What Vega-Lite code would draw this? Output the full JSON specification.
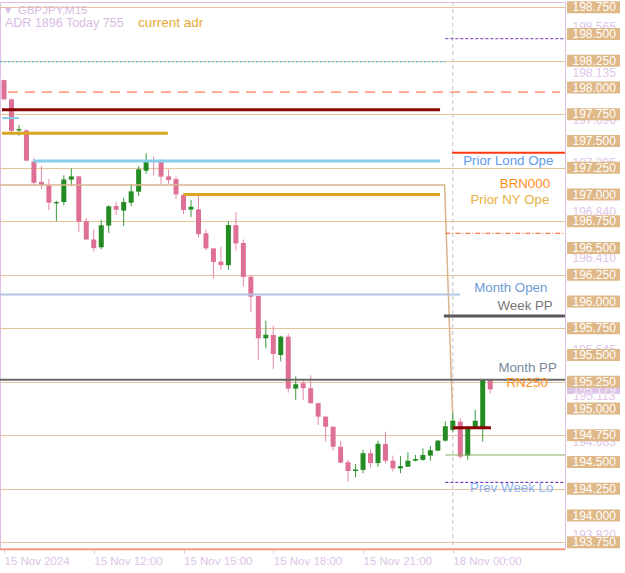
{
  "$schema": "https://vega.github.io/schema/vega-lite/v6.json",
  "width": 565,
  "height": 547,
  "autosize": {"type": "none"},
  "padding": {"left": 0, "top": 2, "right": 60, "bottom": 24},
  "background": "white",
  "config": {"view": {"stroke": "#dbc0e4", "strokeWidth": 1}, "font": "Liberation Sans"},
  "datasets": {
    "candles": [
      {"i":0,"o":198.07,"h":198.075,"l":197.885,"c":197.89},
      {"i":1,"o":197.89,"h":197.9,"l":197.557,"c":197.597},
      {"i":2,"o":197.6,"h":197.65,"l":197.55,"c":197.612},
      {"i":3,"o":197.6,"h":197.61,"l":197.315,"c":197.317},
      {"i":4,"o":197.31,"h":197.34,"l":197.08,"c":197.11},
      {"i":5,"o":197.118,"h":197.267,"l":197.05,"c":197.087},
      {"i":6,"o":197.086,"h":197.145,"l":196.855,"c":196.924},
      {"i":7,"o":196.918,"h":196.94,"l":196.75,"c":196.93},
      {"i":8,"o":196.93,"h":197.18,"l":196.9,"c":197.14},
      {"i":9,"o":197.14,"h":197.245,"l":197.08,"c":197.17},
      {"i":10,"o":197.17,"h":197.173,"l":196.65,"c":196.746},
      {"i":11,"o":196.75,"h":196.78,"l":196.575,"c":196.58},
      {"i":12,"o":196.58,"h":196.675,"l":196.466,"c":196.5},
      {"i":13,"o":196.507,"h":196.765,"l":196.488,"c":196.713},
      {"i":14,"o":196.71,"h":196.9,"l":196.64,"c":196.89},
      {"i":15,"o":196.893,"h":196.93,"l":196.81,"c":196.858},
      {"i":16,"o":196.85,"h":196.97,"l":196.706,"c":196.93},
      {"i":17,"o":196.924,"h":197.1,"l":196.893,"c":197.03},
      {"i":18,"o":197.027,"h":197.267,"l":196.986,"c":197.236},
      {"i":19,"o":197.223,"h":197.386,"l":197.195,"c":197.316},
      {"i":20,"o":197.323,"h":197.354,"l":197.18,"c":197.31},
      {"i":21,"o":197.314,"h":197.33,"l":197.1,"c":197.167},
      {"i":22,"o":197.17,"h":197.236,"l":197.1,"c":197.136},
      {"i":23,"o":197.145,"h":197.167,"l":196.961,"c":197.002},
      {"i":24,"o":196.996,"h":197.012,"l":196.818,"c":196.856},
      {"i":25,"o":196.86,"h":196.95,"l":196.79,"c":196.886},
      {"i":26,"o":196.862,"h":197.012,"l":196.6,"c":196.63},
      {"i":27,"o":196.638,"h":196.675,"l":196.48,"c":196.497},
      {"i":28,"o":196.497,"h":196.5,"l":196.217,"c":196.37},
      {"i":29,"o":196.373,"h":196.513,"l":196.295,"c":196.34},
      {"i":30,"o":196.34,"h":196.75,"l":196.295,"c":196.715},
      {"i":31,"o":196.715,"h":196.834,"l":196.48,"c":196.544},
      {"i":32,"o":196.547,"h":196.58,"l":196.14,"c":196.23},
      {"i":33,"o":196.232,"h":196.248,"l":195.9,"c":196.045},
      {"i":34,"o":196.052,"h":196.07,"l":195.454,"c":195.657},
      {"i":35,"o":195.657,"h":195.82,"l":195.563,"c":195.69},
      {"i":36,"o":195.688,"h":195.774,"l":195.37,"c":195.51},
      {"i":37,"o":195.5,"h":195.68,"l":195.44,"c":195.672},
      {"i":38,"o":195.672,"h":195.703,"l":195.148,"c":195.186},
      {"i":39,"o":195.186,"h":195.3,"l":195.08,"c":195.227},
      {"i":40,"o":195.236,"h":195.26,"l":195.08,"c":195.19},
      {"i":41,"o":195.19,"h":195.31,"l":195.045,"c":195.05},
      {"i":42,"o":195.05,"h":195.055,"l":194.846,"c":194.924},
      {"i":43,"o":194.924,"h":194.93,"l":194.69,"c":194.83},
      {"i":44,"o":194.83,"h":194.835,"l":194.606,"c":194.643},
      {"i":45,"o":194.643,"h":194.7,"l":194.488,"c":194.494},
      {"i":46,"o":194.498,"h":194.52,"l":194.317,"c":194.416},
      {"i":47,"o":194.416,"h":194.48,"l":194.357,"c":194.43},
      {"i":48,"o":194.426,"h":194.613,"l":194.395,"c":194.582},
      {"i":49,"o":194.582,"h":194.62,"l":194.45,"c":194.49},
      {"i":50,"o":194.49,"h":194.7,"l":194.456,"c":194.67},
      {"i":51,"o":194.668,"h":194.784,"l":194.488,"c":194.512},
      {"i":52,"o":194.512,"h":194.56,"l":194.41,"c":194.44},
      {"i":53,"o":194.44,"h":194.557,"l":194.395,"c":194.462},
      {"i":54,"o":194.456,"h":194.59,"l":194.456,"c":194.512},
      {"i":55,"o":194.513,"h":194.566,"l":194.505,"c":194.528},
      {"i":56,"o":194.52,"h":194.628,"l":194.512,"c":194.566},
      {"i":57,"o":194.56,"h":194.65,"l":194.512,"c":194.61},
      {"i":58,"o":194.606,"h":194.706,"l":194.606,"c":194.7},
      {"i":59,"o":194.7,"h":194.88,"l":194.69,"c":194.834},
      {"i":60,"o":194.8,"h":194.97,"l":194.78,"c":194.887},
      {"i":61,"o":194.877,"h":194.91,"l":194.53,"c":194.55},
      {"i":62,"o":194.56,"h":194.83,"l":194.52,"c":194.83},
      {"i":63,"o":194.82,"h":194.99,"l":194.82,"c":194.886},
      {"i":64,"o":194.82,"h":195.267,"l":194.69,"c":195.267},
      {"i":65,"o":195.267,"h":195.267,"l":195.14,"c":195.179}
    ],
    "levels": [
      {"name":"Prev Day High","i1":-0.535,"i2":59.0,"p":198.24},
      {"name":"Week R1","i1":59.0,"i2":75.0,"p":198.458},
      {"name":"ADR High","i1":0.53,"i2":74.3,"p":197.958},
      {"name":"Asia High","i1":-0.27,"i2":58.3,"p":197.793},
      {"name":"Lond Open Tick","i1":-0.27,"i2":2.0,"p":197.715},
      {"name":"Prior Asia Open","i1":-0.27,"i2":21.9,"p":197.572},
      {"name":"Prior Lond Open","i1":3.9,"i2":58.3,"p":197.313},
      {"name":"BRN000","i1":24.0,"i2":58.3,"p":197.0},
      {"name":"Lond Open","i1":59.9,"i2":75.0,"p":197.39},
      {"name":"Day R1","i1":59.0,"i2":75.0,"p":196.638},
      {"name":"Month Open","i1":-0.535,"i2":61.0,"p":196.066},
      {"name":"Week PP","i1":58.8,"i2":75.0,"p":195.864},
      {"name":"Month PP","i1":-0.535,"i2":75.0,"p":195.27},
      {"name":"Asia Open","i1":60.0,"i2":65.1,"p":194.82},
      {"name":"Day Low","i1":59.0,"i2":75.0,"p":194.566},
      {"name":"Prev Week Lo","i1":59.0,"i2":75.0,"p":194.31},
      {"name":"ADR Low","i1":-0.535,"i2":75.0,"p":193.684}
    ],
    "gap": [
      {"i":-0.535,"p":197.09},
      {"i":58.9,"p":197.09},
      {"i":59.95,"p":194.97}
    ],
    "separators": [{"i":60}],
    "notes": [
      {"text":"Prior Lond Ope","i":73.44,"p":197.316},
      {"text":"BRN000","i":73.0,"p":197.096},
      {"text":"Prior NY Ope","i":72.9,"p":196.949},
      {"text":"Month Open","i":72.64,"p":196.124},
      {"text":"Week PP","i":73.36,"p":195.958},
      {"text":"Month PP","i":73.9,"p":195.376},
      {"text":"RN250","i":72.7,"p":195.236},
      {"text":"Prev Week Lo","i":73.44,"p":194.26}
    ],
    "header": [
      {"text":"GBPJPY,M15","i":1.87,"p":198.715}
    ],
    "headerAdrText": [
      {"text":"ADR 1896  Today 755","i":0.13,"p":198.603}
    ],
    "headerAdr": [{"text":"current adr","i":17.9,"p":198.603}],
    "headerMark": [{"text":"▼","i":0.55,"p":198.718}],
    "gridPrices": [
      {"p":193.75},{"p":194.0},{"p":194.25},{"p":194.5},{"p":194.75},{"p":195.0},{"p":195.25},
      {"p":195.5},{"p":195.75},{"p":196.0},{"p":196.25},{"p":196.5},{"p":196.75},{"p":197.0},
      {"p":197.25},{"p":197.5},{"p":197.75},{"p":198.0},{"p":198.25},{"p":198.5},{"p":198.75}
    ],
    "tags": [
      {"p":198.565,"label":"198.565"},
      {"p":198.135,"label":"198.135"},
      {"p":197.696,"label":"197.696"},
      {"p":197.295,"label":"197.295"},
      {"p":196.84,"label":"196.840"},
      {"p":196.41,"label":"196.410"},
      {"p":195.545,"label":"195.545"},
      {"p":195.113,"label":"195.113"},
      {"p":194.683,"label":"194.683"},
      {"p":193.82,"label":"193.820"}
    ],
    "bid": [{"p":195.174,"label":"195.179"}]
  },
  "layer": [
    {
      "data": {"name": "separators"},
      "mark": {"type": "rule", "color": "#c4c4c4", "strokeWidth": 1, "strokeDash": [4, 3]},
      "encoding": {
        "x": {
          "field": "i", "type": "quantitative", "title": null,
          "scale": {"domain": [-0.535, 75.0], "nice": false, "zero": false, "padding": 0},
          "axis": {
            "orient": "bottom", "values": [0, 12, 24, 36, 48, 60], "grid": false, "domain": false,
            "labelExpr": "['15 Nov 2024','15 Nov 12:00','15 Nov 15:00','15 Nov 18:00','15 Nov 21:00','18 Nov 00:00'][round(datum.value/12)]",
            "labelAlign": "left", "labelColor": "#dcc4e6", "labelFont": "Liberation Sans", "labelFontSize": 11.5,
            "labelPadding": 2, "tickSize": 4, "tickColor": "#dcc4e6", "labelFlush": false, "labelOverlap": false
          }
        }
      }
    },
    {
      "data": {"name": "candles"},
      "mark": {"type": "rule", "strokeWidth": 1},
      "encoding": {
        "x": {"field": "i", "type": "quantitative", "title": null},
        "y": {
          "field": "l", "type": "quantitative", "title": null,
          "scale": {"domain": [193.687, 198.8], "nice": false, "zero": false, "padding": 0},
          "axis": {
            "orient": "right", "values": [193.75,194,194.25,194.5,194.75,195,195.25,195.5,195.75,196,196.25,196.5,196.75,197,197.25,197.5,197.75,198,198.25,198.5,198.75],
            "labels": false, "ticks": false, "domain": false, "grid": true, "gridColor": "#e6c29a", "gridWidth": 1
          }
        },
        "y2": {"field": "h"},
        "color": {"condition": {"test": "datum.c >= datum.o", "value": "#3a9a3a"}, "value": "#e688a8"}
      }
    },
    {
      "data": {"name": "candles"},
      "mark": {"type": "bar", "size": 5},
      "encoding": {
        "x": {"field": "i", "type": "quantitative", "title": null},
        "y": {"field": "o", "type": "quantitative", "title": null},
        "y2": {"field": "c"},
        "color": {"condition": {"test": "datum.c >= datum.o", "value": "#248a24"}, "value": "#de7096"}
      }
    },
    {
      "data": {"name": "gap"},
      "mark": {"type": "line", "color": "#dab48a", "strokeWidth": 1.5},
      "encoding": {
        "x": {"field": "i", "type": "quantitative", "title": null},
        "y": {"field": "p", "type": "quantitative", "title": null},
        "order": {"field": "i"}
      }
    },
    {"data": {"name": "levels"}, "transform": [{"filter": "datum.name === 'Prev Day High'"}],
     "mark": {"type": "rule", "color": "#30b8ee", "strokeWidth": 1, "strokeDash": [2, 2]},
     "encoding": {"x": {"field": "i1", "type": "quantitative", "title": null}, "x2": {"field": "i2"}, "y": {"field": "p", "type": "quantitative", "title": null}}},
    {"data": {"name": "levels"}, "transform": [{"filter": "datum.name === 'Week R1'"}],
     "mark": {"type": "rule", "color": "#8a5cc8", "strokeWidth": 1.2, "strokeDash": [3, 2]},
     "encoding": {"x": {"field": "i1", "type": "quantitative", "title": null}, "x2": {"field": "i2"}, "y": {"field": "p", "type": "quantitative", "title": null}}},
    {"data": {"name": "levels"}, "transform": [{"filter": "datum.name === 'ADR High'"}],
     "mark": {"type": "rule", "color": "#ff5a28", "strokeWidth": 1, "strokeDash": [10, 7]},
     "encoding": {"x": {"field": "i1", "type": "quantitative", "title": null}, "x2": {"field": "i2"}, "y": {"field": "p", "type": "quantitative", "title": null}}},
    {"data": {"name": "levels"}, "transform": [{"filter": "datum.name === 'Asia High' || datum.name === 'Asia Open'"}],
     "mark": {"type": "rule", "color": "#8b0000", "strokeWidth": 3},
     "encoding": {"x": {"field": "i1", "type": "quantitative", "title": null}, "x2": {"field": "i2"}, "y": {"field": "p", "type": "quantitative", "title": null}}},
    {"data": {"name": "levels"}, "transform": [{"filter": "datum.name === 'Lond Open Tick'"}],
     "mark": {"type": "rule", "color": "#87ceeb", "strokeWidth": 2},
     "encoding": {"x": {"field": "i1", "type": "quantitative", "title": null}, "x2": {"field": "i2"}, "y": {"field": "p", "type": "quantitative", "title": null}}},
    {"data": {"name": "levels"}, "transform": [{"filter": "datum.name === 'Prior Lond Open'"}],
     "mark": {"type": "rule", "color": "#87ceeb", "strokeWidth": 3},
     "encoding": {"x": {"field": "i1", "type": "quantitative", "title": null}, "x2": {"field": "i2"}, "y": {"field": "p", "type": "quantitative", "title": null}}},
    {"data": {"name": "levels"}, "transform": [{"filter": "datum.name === 'Prior Asia Open' || datum.name === 'BRN000'"}],
     "mark": {"type": "rule", "color": "#daa520", "strokeWidth": 3},
     "encoding": {"x": {"field": "i1", "type": "quantitative", "title": null}, "x2": {"field": "i2"}, "y": {"field": "p", "type": "quantitative", "title": null}}},
    {"data": {"name": "levels"}, "transform": [{"filter": "datum.name === 'Lond Open'"}],
     "mark": {"type": "rule", "color": "#ff3a10", "strokeWidth": 2},
     "encoding": {"x": {"field": "i1", "type": "quantitative", "title": null}, "x2": {"field": "i2"}, "y": {"field": "p", "type": "quantitative", "title": null}}},
    {"data": {"name": "levels"}, "transform": [{"filter": "datum.name === 'Day R1'"}],
     "mark": {"type": "rule", "color": "#ff5a28", "strokeWidth": 1, "strokeDash": [5, 2, 1, 2]},
     "encoding": {"x": {"field": "i1", "type": "quantitative", "title": null}, "x2": {"field": "i2"}, "y": {"field": "p", "type": "quantitative", "title": null}}},
    {"data": {"name": "levels"}, "transform": [{"filter": "datum.name === 'Month Open'"}],
     "mark": {"type": "rule", "color": "#b4c8e2", "strokeWidth": 2},
     "encoding": {"x": {"field": "i1", "type": "quantitative", "title": null}, "x2": {"field": "i2"}, "y": {"field": "p", "type": "quantitative", "title": null}}},
    {"data": {"name": "levels"}, "transform": [{"filter": "datum.name === 'Week PP'"}],
     "mark": {"type": "rule", "color": "#5a5a5a", "strokeWidth": 3},
     "encoding": {"x": {"field": "i1", "type": "quantitative", "title": null}, "x2": {"field": "i2"}, "y": {"field": "p", "type": "quantitative", "title": null}}},
    {"data": {"name": "levels"}, "transform": [{"filter": "datum.name === 'Month PP'"}],
     "mark": {"type": "rule", "color": "#6a6a6a", "strokeWidth": 2},
     "encoding": {"x": {"field": "i1", "type": "quantitative", "title": null}, "x2": {"field": "i2"}, "y": {"field": "p", "type": "quantitative", "title": null}}},
    {"data": {"name": "levels"}, "transform": [{"filter": "datum.name === 'Day Low'"}],
     "mark": {"type": "rule", "color": "#8aac62", "strokeWidth": 1},
     "encoding": {"x": {"field": "i1", "type": "quantitative", "title": null}, "x2": {"field": "i2"}, "y": {"field": "p", "type": "quantitative", "title": null}}},
    {"data": {"name": "levels"}, "transform": [{"filter": "datum.name === 'Prev Week Lo'"}],
     "mark": {"type": "rule", "color": "#5a1aa8", "strokeWidth": 1, "strokeDash": [3, 2]},
     "encoding": {"x": {"field": "i1", "type": "quantitative", "title": null}, "x2": {"field": "i2"}, "y": {"field": "p", "type": "quantitative", "title": null}}},
    {"data": {"name": "levels"}, "transform": [{"filter": "datum.name === 'ADR Low'"}],
     "mark": {"type": "rule", "color": "#f49a80", "strokeWidth": 2},
     "encoding": {"x": {"field": "i1", "type": "quantitative", "title": null}, "x2": {"field": "i2"}, "y": {"field": "p", "type": "quantitative", "title": null}}},
    {
      "data": {"name": "notes"},
      "mark": {"type": "text", "align": "right", "baseline": "middle", "fontSize": 13.3, "font": "Liberation Sans"},
      "encoding": {
        "x": {"field": "i", "type": "quantitative", "title": null},
        "y": {"field": "p", "type": "quantitative", "title": null},
        "text": {"field": "text"},
        "fill": {
          "field": "text", "type": "nominal", "legend": null,
          "scale": {
            "domain": ["Prior Lond Ope", "BRN000", "Prior NY Ope", "Month Open", "Week PP", "Month PP", "RN250", "Prev Week Lo"],
            "range": ["#5b9bea", "#ff8c1a", "#e8b040", "#6c9bd6", "#757575", "#78889a", "#ff9020", "#8cb2f2"]
          }
        }
      }
    },
    {
      "data": {"name": "header"},
      "mark": {"type": "text", "align": "left", "baseline": "middle", "fontSize": 11.5, "font": "Liberation Sans", "color": "#d8bce2"},
      "encoding": {
        "x": {"field": "i", "type": "quantitative", "title": null},
        "y": {"field": "p", "type": "quantitative", "title": null},
        "text": {"field": "text"}
      }
    },
    {
      "data": {"name": "headerAdrText"},
      "mark": {"type": "text", "align": "left", "baseline": "middle", "fontSize": 12.5, "font": "Liberation Sans", "color": "#d8bce2"},
      "encoding": {
        "x": {"field": "i", "type": "quantitative", "title": null},
        "y": {"field": "p", "type": "quantitative", "title": null},
        "text": {"field": "text"}
      }
    },
    {
      "data": {"name": "headerMark"},
      "mark": {"type": "text", "align": "center", "baseline": "middle", "fontSize": 8, "font": "DejaVu Sans", "color": "#d8bce2"},
      "encoding": {
        "x": {"field": "i", "type": "quantitative", "title": null},
        "y": {"field": "p", "type": "quantitative", "title": null},
        "text": {"field": "text"}
      }
    },
    {
      "data": {"name": "headerAdr"},
      "mark": {"type": "text", "align": "left", "baseline": "middle", "fontSize": 13.5, "font": "Liberation Sans", "color": "#e8a838"},
      "encoding": {
        "x": {"field": "i", "type": "quantitative", "title": null},
        "y": {"field": "p", "type": "quantitative", "title": null},
        "text": {"field": "text"}
      }
    },
    {
      "data": {"name": "tags"},
      "mark": {"type": "text", "align": "center", "baseline": "middle", "fontSize": 12, "font": "Liberation Sans", "color": "#e0c6ea"},
      "encoding": {
        "x": {"datum": 78.9, "type": "quantitative"},
        "y": {"field": "p", "type": "quantitative", "title": null},
        "text": {"field": "label"}
      }
    },
    {
      "data": {"name": "bid"},
      "mark": {"type": "bar", "orient": "horizontal", "size": 8, "color": "#dcc4e6"},
      "encoding": {
        "x": {"datum": 75.27, "type": "quantitative"},
        "x2": {"datum": 82.35},
        "y": {"field": "p", "type": "quantitative", "title": null}
      }
    },
    {
      "data": {"name": "bid"},
      "mark": {"type": "text", "align": "center", "baseline": "middle", "fontSize": 12, "font": "Liberation Sans", "color": "#f4eaf6"},
      "encoding": {
        "x": {"datum": 78.9, "type": "quantitative"},
        "y": {"field": "p", "type": "quantitative", "title": null},
        "text": {"field": "label"}
      }
    },
    {
      "data": {"name": "gridPrices"},
      "mark": {"type": "bar", "orient": "horizontal", "size": 12, "color": "#dfb888"},
      "encoding": {
        "x": {"datum": 75.27, "type": "quantitative"},
        "x2": {"datum": 82.35},
        "y": {"field": "p", "type": "quantitative", "title": null}
      }
    },
    {
      "data": {"name": "gridPrices"},
      "mark": {"type": "text", "align": "center", "baseline": "middle", "fontSize": 12, "font": "Liberation Sans", "color": "#ffffff"},
      "encoding": {
        "x": {"datum": 78.9, "type": "quantitative"},
        "y": {"field": "p", "type": "quantitative", "title": null},
        "text": {"field": "p", "type": "quantitative", "format": ".3f"}
      }
    }
  ]
}
